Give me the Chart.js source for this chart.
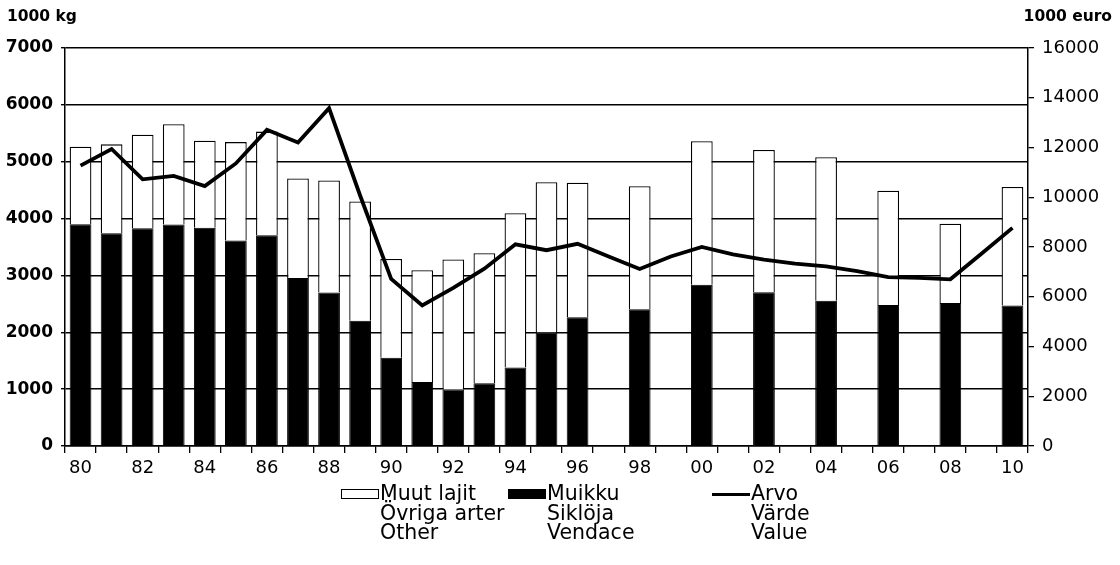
<!DOCTYPE html>
<html lang="fi">
<head>
    <title>Muikku ja muut lajit</title>
    <script src="https://cdn.jsdelivr.net/npm/chart.js"></script>
    <style>
        body { margin: 0; background: #fff; font-family: "DejaVu Sans", sans-serif; color: #000; }
        .wrap { position: relative; width: 1120px; height: 565px; }
        .unit { position: absolute; top: 7px; font-weight: bold; font-size: 15.5px; }
        .item { position: absolute; top: 484px; font-size: 20.5px; line-height: 19.5px; }
        .sym { position: absolute; width: 38px; height: 10px; top: 5px; box-sizing: border-box; }
        .txt { position: absolute; left: 39px; white-space: nowrap; }
    </style>
</head>
<body>
<div class="wrap">
    <canvas id="chart" width="1120" height="565"></canvas>
    <div class="unit" style="left:7px">1000 kg</div>
    <div class="unit" style="right:8px">1000 euro</div>
    <div class="item" style="left:341px"><div class="sym" style="border:1px solid #000;background:#fff"></div><div class="txt">Muut lajit<br>Övriga arter<br>Other</div></div>
    <div class="item" style="left:508px"><div class="sym" style="background:#000"></div><div class="txt">Muikku<br>Siklöja<br>Vendace</div></div>
    <div class="item" style="left:712px"><div class="sym" style="height:3px;top:9px;background:#000"></div><div class="txt">Arvo<br>Värde<br>Value</div></div>
</div>

<script>
    // years 1980-2010, bars only every second year after 1996
    const years = [1980, 1981, 1982, 1983, 1984, 1985, 1986, 1987, 1988, 1989,
                   1990, 1991, 1992, 1993, 1994, 1995, 1996, 1997, 1998, 1999,
                   2000, 2001, 2002, 2003, 2004, 2005, 2006, 2007, 2008, 2009, 2010];

    // 1000 kg
    const vendace = [3900, 3740, 3830, 3895, 3840, 3615, 3705, 2955, 2700, 2205,
                     1550, 1125, 995, 1105, 1380, 1995, 2265, null, 2405, null,
                     2835, null, 2705, null, 2555, null, 2480, null, 2515, null, 2470];
    const other = [1365, 1565, 1645, 1765, 1530, 1730, 1825, 1750, 1970, 2095,
                   1740, 1965, 2285, 2285, 2715, 2645, 2365, null, 2165, null,
                   2525, null, 2500, null, 2525, null, 2010, null, 1395, null, 2085];

    // 1000 euro
    const value = [11270, 11940, 10720, 10860, 10450, 11360, 12710, 12200, 13580, 10070,
                   6720, 5650, 6360, 7130, 8110, 7870, 8130, 7620, 7120, 7620,
                   8000, 7700, 7490, 7330, 7220, 7030, 6790, 6760, 6700, 7730, 8770];

    const kgTicks = [0, 1000, 2000, 3000, 4000, 5000, 6000, 7000];
    const euroTicks = [0, 2000, 4000, 6000, 8000, 10000, 12000, 14000, 16000];

    const tickFont = { family: 'DejaVu Sans', size: 17 };

    new Chart(document.getElementById('chart').getContext('2d'), {
        type: 'bar',
        data: {
            labels: years,
            datasets: [
                {
                    type: 'line',
                    label: 'Arvo',
                    data: value,
                    yAxisID: 'y2',
                    borderColor: '#000',
                    borderWidth: 3.8,
                    pointRadius: 0,
                    tension: 0,
                    order: 0
                },
                {
                    label: 'Muikku',
                    data: vendace,
                    yAxisID: 'y',
                    backgroundColor: '#000',
                    borderColor: '#000',
                    borderWidth: 1,
                    order: 1
                },
                {
                    label: 'Muut lajit',
                    data: other,
                    yAxisID: 'y',
                    backgroundColor: '#fff',
                    borderColor: '#000',
                    borderWidth: 1.3,
                    order: 1
                }
            ]
        },
        options: {
            responsive: false,
            animation: false,
            layout: { padding: { top: 48, left: 0, right: 0, bottom: 0 } },
            datasets: { bar: { categoryPercentage: 1, barPercentage: 0.7 } },
            plugins: { legend: { display: false }, tooltip: { enabled: false } },
            scales: {
                x: {
                    stacked: true,
                    afterFit: s => { s.height = 119; },
                    grid: { offset: true, drawOnChartArea: false, color: '#000', tickLength: 7, lineWidth: 1.3 },
                    border: { color: '#000', width: 1.5 },
                    ticks: {
                        autoSkip: false,
                        maxRotation: 0,
                        padding: 5,
                        color: '#000',
                        font: { ...tickFont, size: 18 },
                        callback: function (v, i) {
                            const y = years[i];
                            return y % 2 === 0 ? String(y).slice(2) : '';
                        }
                    }
                },
                y: {
                    stacked: true,
                    min: 0,
                    max: 7000,
                    afterFit: s => { s.width = 65; },
                    afterBuildTicks: s => { s.ticks = kgTicks.map(v => ({ value: v })); },
                    grid: { color: '#000', lineWidth: 1.4, tickLength: 4 },
                    border: { color: '#000', width: 1.5 },
                    ticks: { color: '#000', padding: 8, font: { ...tickFont, weight: 'bold' }, callback: v => String(v) }
                },
                y2: {
                    position: 'right',
                    stacked: false,
                    min: 0,
                    max: 16000,
                    afterFit: s => { s.width = 92; },
                    afterBuildTicks: s => { s.ticks = euroTicks.map(v => ({ value: v })); },
                    grid: { drawOnChartArea: false, color: '#000', tickLength: 6, lineWidth: 1.3 },
                    border: { color: '#000', width: 1.5 },
                    ticks: { color: '#000', padding: 8, font: { ...tickFont, size: 18 }, callback: v => String(v) }
                }
            }
        }
    });
</script>
</body>
</html>
